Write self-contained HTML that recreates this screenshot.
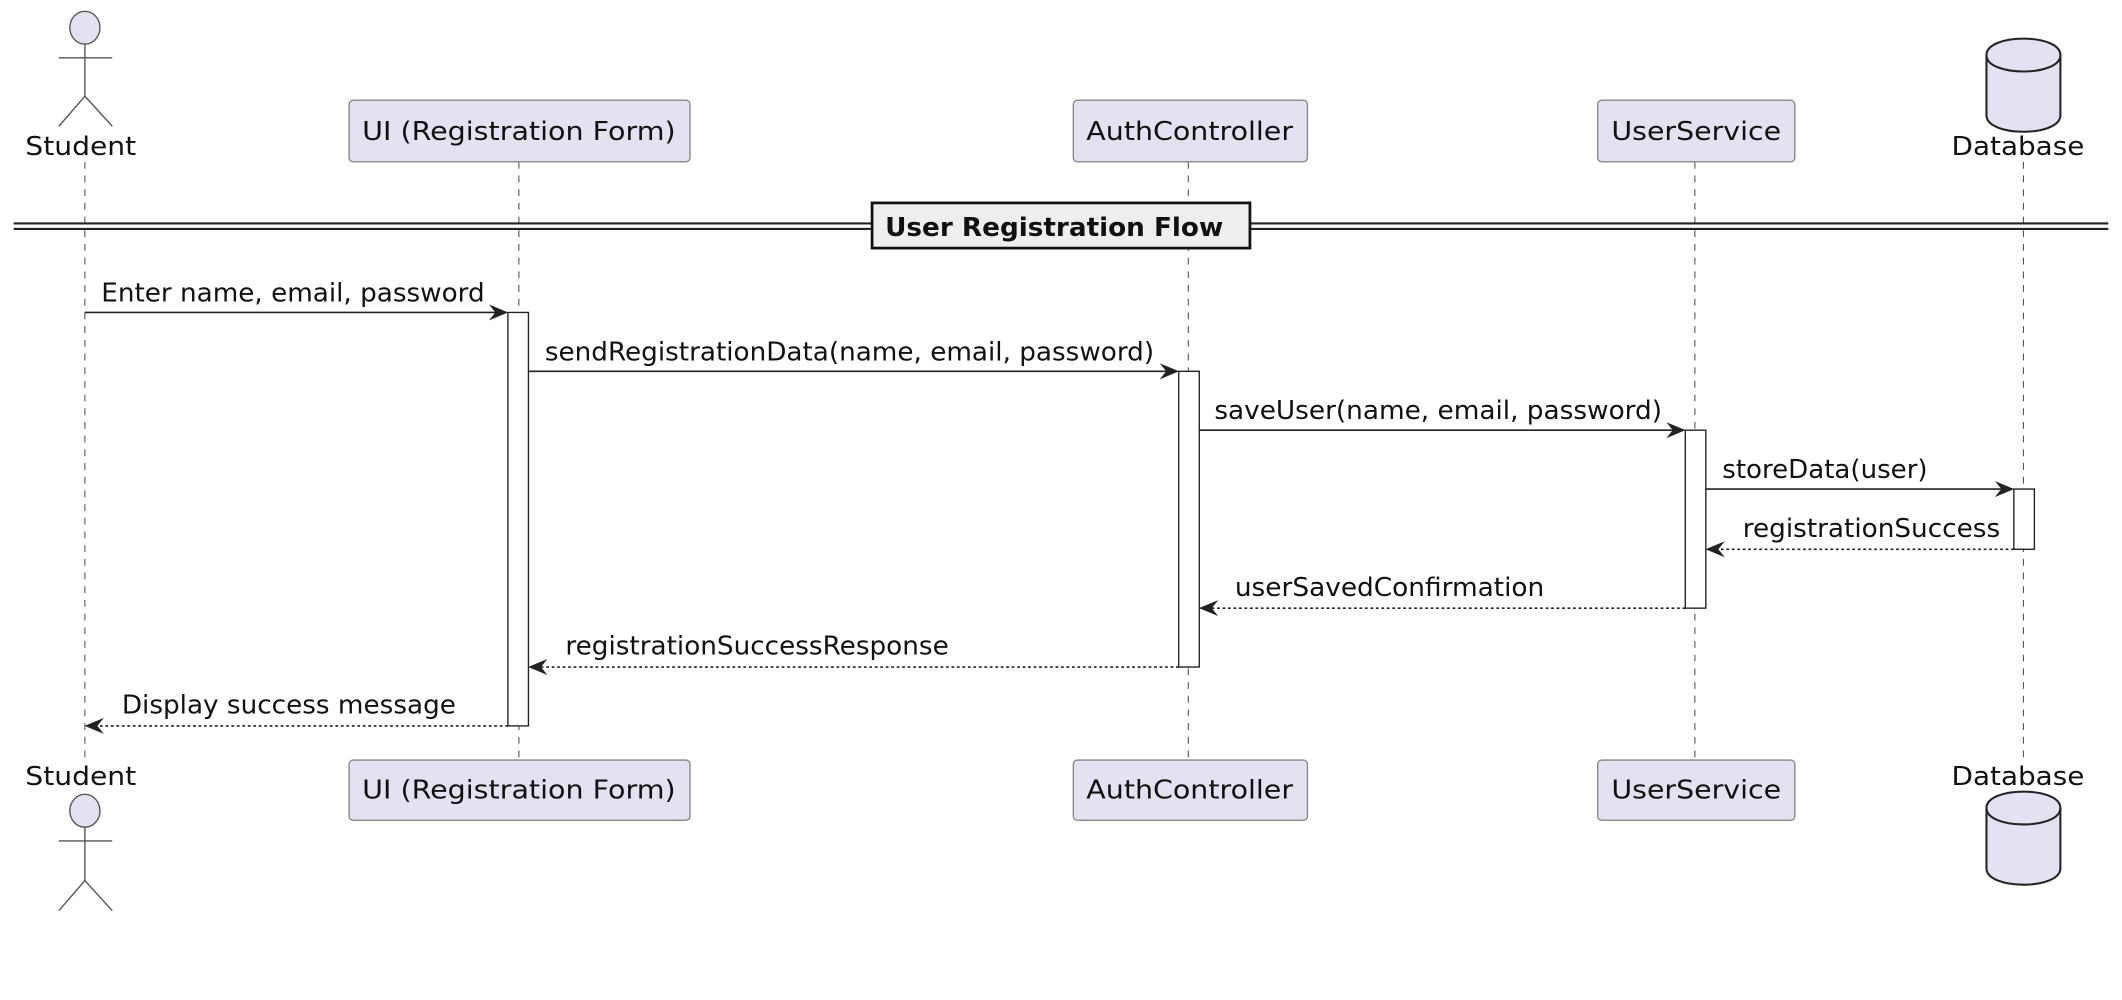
<!DOCTYPE html>
<html><head><meta charset="utf-8"><style>
html,body{margin:0;padding:0;background:#fff;}
svg{display:block;}
text{font-family:"DejaVu Sans","Liberation Sans",sans-serif;font-size:19px;fill:#111;}
</style></head><body>
<svg width="2122" height="1000" viewBox="0 0 1550 730" xmlns="http://www.w3.org/2000/svg">
<defs>
<marker id="ah" viewBox="0 0 12 10" refX="11" refY="5" markerWidth="14" markerHeight="12" markerUnits="userSpaceOnUse" orient="auto">
<path d="M0,0 L12,5 L0,10 L4,5 Z" fill="#222"/>
</marker>
</defs>
<g stroke="#555" stroke-width="0.8" stroke-dasharray="5,5" fill="none">
<line x1="62" y1="118" x2="62" y2="555"/>
<line x1="379" y1="118" x2="379" y2="555"/>
<line x1="868" y1="118" x2="868" y2="555"/>
<line x1="1238" y1="118" x2="1238" y2="555"/>
<line x1="1478" y1="118" x2="1478" y2="555"/>
</g>
<g stroke="#555" stroke-width="1" fill="#e2e2f0">
<ellipse cx="62" cy="20" rx="11" ry="12"/>
<line x1="62" y1="32" x2="62" y2="70"/>
<line x1="43" y1="42" x2="82" y2="42"/>
<line x1="62" y1="70" x2="43" y2="92"/>
<line x1="62" y1="70" x2="82" y2="92"/>
</g>
<text x="59" y="113" text-anchor="middle" textLength="81" lengthAdjust="spacingAndGlyphs">Student</text>
<g fill="#e2e2f0" stroke="#888" stroke-width="1">
<rect x="255" y="73" width="249" height="45" rx="3"/>
<rect x="784" y="73" width="171" height="45" rx="3"/>
<rect x="1167" y="73" width="144" height="45" rx="3"/>
<rect x="255" y="555" width="249" height="44" rx="3"/>
<rect x="784" y="555" width="171" height="44" rx="3"/>
<rect x="1167" y="555" width="144" height="44" rx="3"/>
</g>
<text x="379" y="102" text-anchor="middle" textLength="229" lengthAdjust="spacingAndGlyphs">UI (Registration Form)</text>
<text x="869" y="102" text-anchor="middle" textLength="151" lengthAdjust="spacingAndGlyphs">AuthController</text>
<text x="1239" y="102" text-anchor="middle" textLength="124" lengthAdjust="spacingAndGlyphs">UserService</text>
<text x="379" y="583" text-anchor="middle" textLength="229" lengthAdjust="spacingAndGlyphs">UI (Registration Form)</text>
<text x="869" y="583" text-anchor="middle" textLength="151" lengthAdjust="spacingAndGlyphs">AuthController</text>
<text x="1239" y="583" text-anchor="middle" textLength="124" lengthAdjust="spacingAndGlyphs">UserService</text>
<g fill="#e2e2f0" stroke="#222" stroke-width="1.5">
<path d="M1451,40 C1451,24 1505,24 1505,40 L1505,84 C1505,100 1451,100 1451,84 Z"/>
<path d="M1451,40 C1451,56 1505,56 1505,40" fill="none"/>
<path d="M1451,590 C1451,574 1505,574 1505,590 L1505,634 C1505,650 1451,650 1451,634 Z"/>
<path d="M1451,590 C1451,606 1505,606 1505,590" fill="none"/>
</g>
<text x="1474" y="113" text-anchor="middle" textLength="97" lengthAdjust="spacingAndGlyphs">Database</text>
<text x="1474" y="573" text-anchor="middle" textLength="97" lengthAdjust="spacingAndGlyphs">Database</text>
<text x="59" y="573" text-anchor="middle" textLength="81" lengthAdjust="spacingAndGlyphs">Student</text>
<g stroke="#555" stroke-width="1" fill="#e2e2f0">
<ellipse cx="62" cy="592" rx="11" ry="12"/>
<line x1="62" y1="604" x2="62" y2="643"/>
<line x1="43" y1="614" x2="82" y2="614"/>
<line x1="62" y1="643" x2="43" y2="665"/>
<line x1="62" y1="643" x2="82" y2="665"/>
</g>
<g stroke="#222" stroke-width="1.5">
<line x1="10" y1="163" x2="1540" y2="163"/>
<line x1="10" y1="167" x2="1540" y2="167"/>
</g>
<rect x="637" y="148" width="276" height="33" fill="#eee" stroke="#111" stroke-width="2"/>
<text x="770" y="172" text-anchor="middle" style="font-weight:bold" textLength="247" lengthAdjust="spacingAndGlyphs">User Registration Flow</text>
<g fill="#fff" stroke="#222" stroke-width="1">
<rect x="371" y="228" width="15" height="302"/>
<rect x="861" y="271" width="15" height="216"/>
<rect x="1231" y="314" width="15" height="130"/>
<rect x="1471" y="357" width="15" height="44"/>
</g>
<g stroke="#222" stroke-width="1.2" fill="none" marker-end="url(#ah)">
<line x1="62" y1="228" x2="370" y2="228"/>
<line x1="386" y1="271" x2="860" y2="271"/>
<line x1="876" y1="314" x2="1230" y2="314"/>
<line x1="1246" y1="357" x2="1470" y2="357"/>
</g>
<g stroke="#222" stroke-width="1.2" fill="none" stroke-dasharray="2,2" marker-end="url(#ah)">
<line x1="1471" y1="401" x2="1247" y2="401"/>
<line x1="1231" y1="444" x2="877" y2="444"/>
<line x1="861" y1="487" x2="387" y2="487"/>
<line x1="371" y1="530" x2="63" y2="530"/>
</g>
<text x="74" y="220" textLength="280" lengthAdjust="spacingAndGlyphs">Enter name, email, password</text>
<text x="398" y="263" textLength="445" lengthAdjust="spacingAndGlyphs">sendRegistrationData(name, email, password)</text>
<text x="887" y="306" textLength="327" lengthAdjust="spacingAndGlyphs">saveUser(name, email, password)</text>
<text x="1258" y="349" textLength="150" lengthAdjust="spacingAndGlyphs">storeData(user)</text>
<text x="1273" y="392" textLength="188" lengthAdjust="spacingAndGlyphs">registrationSuccess</text>
<text x="902" y="435" textLength="226" lengthAdjust="spacingAndGlyphs">userSavedConfirmation</text>
<text x="413" y="478" textLength="280" lengthAdjust="spacingAndGlyphs">registrationSuccessResponse</text>
<text x="89" y="521" textLength="244" lengthAdjust="spacingAndGlyphs">Display success message</text>
</svg>
</body></html>
